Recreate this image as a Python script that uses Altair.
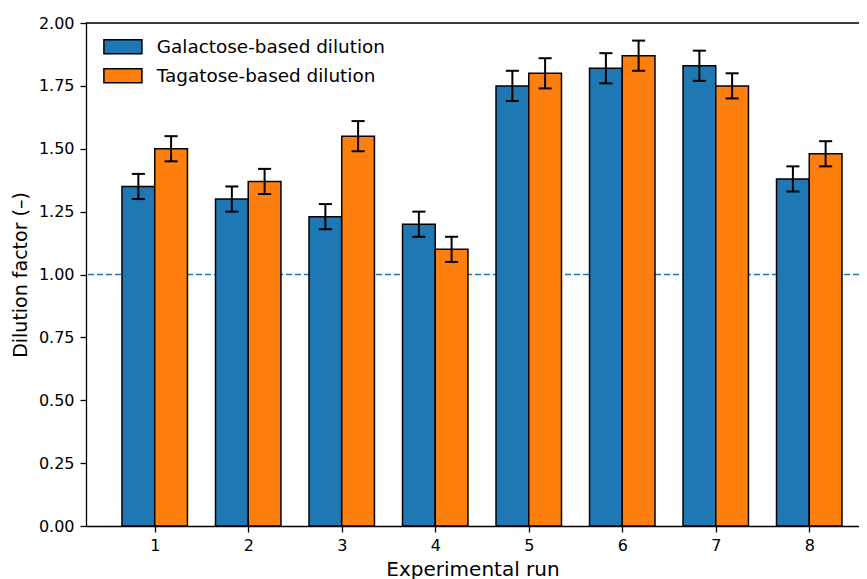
import altair as alt
import pandas as pd

runs = [1, 2, 3, 4, 5, 6, 7, 8]
galactose = [1.35, 1.30, 1.23, 1.20, 1.75, 1.82, 1.83, 1.38]
galactose_err = [0.05, 0.05, 0.05, 0.05, 0.06, 0.06, 0.06, 0.05]
tagatose = [1.50, 1.37, 1.55, 1.10, 1.80, 1.87, 1.75, 1.48]
tagatose_err = [0.05, 0.05, 0.06, 0.05, 0.06, 0.06, 0.05, 0.05]
series_names = ["Galactose-based dilution", "Tagatose-based dilution"]
series_colors = ["#1f77b4", "#ff7f0e"]
y_ticks = [0, 0.25, 0.5, 0.75, 1.0, 1.25, 1.5, 1.75, 2.0]
y_max = 2.0
reference_level = 1.0

rows = []
for r, v, e in zip(runs, galactose, galactose_err):
    rows.append({"run": r, "series": series_names[0], "idx": 0, "value": v, "err": e})
for r, v, e in zip(runs, tagatose, tagatose_err):
    rows.append({"run": r, "series": series_names[1], "idx": 1, "value": v, "err": e})
df = pd.DataFrame(rows)

BW = 0.35
CAP = 0.07
FONT = "DejaVu Sans"

base = alt.Chart(df).transform_calculate(
    x0=f"datum.run - {BW} + datum.idx * {BW}",
    x1=f"datum.run + datum.idx * {BW}",
    xc=f"datum.run - {BW/2} + datum.idx * {BW}",
    lo="datum.value - datum.err",
    hi="datum.value + datum.err",
    zero="0",
).transform_calculate(
    cl=f"datum.xc - {CAP}",
    cr=f"datum.xc + {CAP}",
)

xscale = alt.Scale(domain=[0.265, 8.532], nice=False, zero=False)
yscale = alt.Scale(domain=[0, y_max], nice=False)

xaxis = alt.Axis(values=runs, format="d", title="Experimental run", grid=False,
                 domainColor="black", domainWidth=1.3, tickColor="black", tickWidth=1.3,
                 tickSize=6, labelFontSize=16, labelColor="black", labelPadding=5,
                 titleFontSize=20, titleFontWeight="normal", titleColor="black", titlePadding=6,
                 labelFont=FONT, titleFont=FONT)
yaxis = alt.Axis(values=y_ticks, format=".2f",
                 title="Dilution factor (–)", grid=False,
                 domainColor="black", domainWidth=1.3, tickColor="black", tickWidth=1.3,
                 tickSize=6, labelFontSize=16, labelColor="black", labelPadding=6,
                 titleFontSize=19, titleFontWeight="normal", titleColor="black", titlePadding=8,
                 labelFont=FONT, titleFont=FONT)

ref = alt.Chart(pd.DataFrame({"y": [reference_level]})).mark_rule(
    color="#1f77b4", strokeDash=[6, 3], strokeWidth=1.5
).encode(y=alt.Y("y:Q", scale=yscale, axis=yaxis))

top_spine = alt.Chart(pd.DataFrame({"y": [y_max]})).mark_rule(
    color="black", strokeWidth=1.3
).encode(y=alt.Y("y:Q", scale=yscale))

bars = base.mark_bar(stroke="black", strokeWidth=1.5).encode(
    x=alt.X("x0:Q", scale=xscale, axis=xaxis),
    x2="x1:Q",
    y=alt.Y("value:Q", scale=yscale, axis=yaxis),
    y2="zero:Q",
    color=alt.Color("series:N",
                    scale=alt.Scale(domain=series_names, range=series_colors),
                    legend=alt.Legend(title=None, orient="none", legendX=27.7, legendY=14.5,
                                      symbolType="M-2.714,-1H2.714V1H-2.714Z", symbolSize=196,
                                      symbolStrokeColor="black", symbolStrokeWidth=1.5,
                                      symbolOpacity=1, labelFontSize=18.4, labelFont=FONT,
                                      labelColor="black", labelOffset=24.7, rowPadding=8,
                                      labelLimit=0, padding=0)),
)

err = base.mark_rule(color="black", strokeWidth=2).encode(
    x=alt.X("xc:Q", scale=xscale), y=alt.Y("lo:Q", scale=yscale), y2="hi:Q"
)
cap_lo = base.mark_rule(color="black", strokeWidth=2).encode(
    x=alt.X("cl:Q", scale=xscale), x2="cr:Q", y=alt.Y("lo:Q", scale=yscale)
)
cap_hi = base.mark_rule(color="black", strokeWidth=2).encode(
    x=alt.X("cl:Q", scale=xscale), x2="cr:Q", y=alt.Y("hi:Q", scale=yscale)
)

chart = alt.layer(ref, bars, err, cap_lo, cap_hi, top_spine).properties(
    width=773, height=503,
    autosize=alt.AutoSizeParams(type="none"),
    padding={"left": 78, "top": 15, "right": 0, "bottom": 54},
).configure_view(stroke=None).configure(background="white")

chart.save("out.html", embed_options={"renderer": "svg", "actions": False})
